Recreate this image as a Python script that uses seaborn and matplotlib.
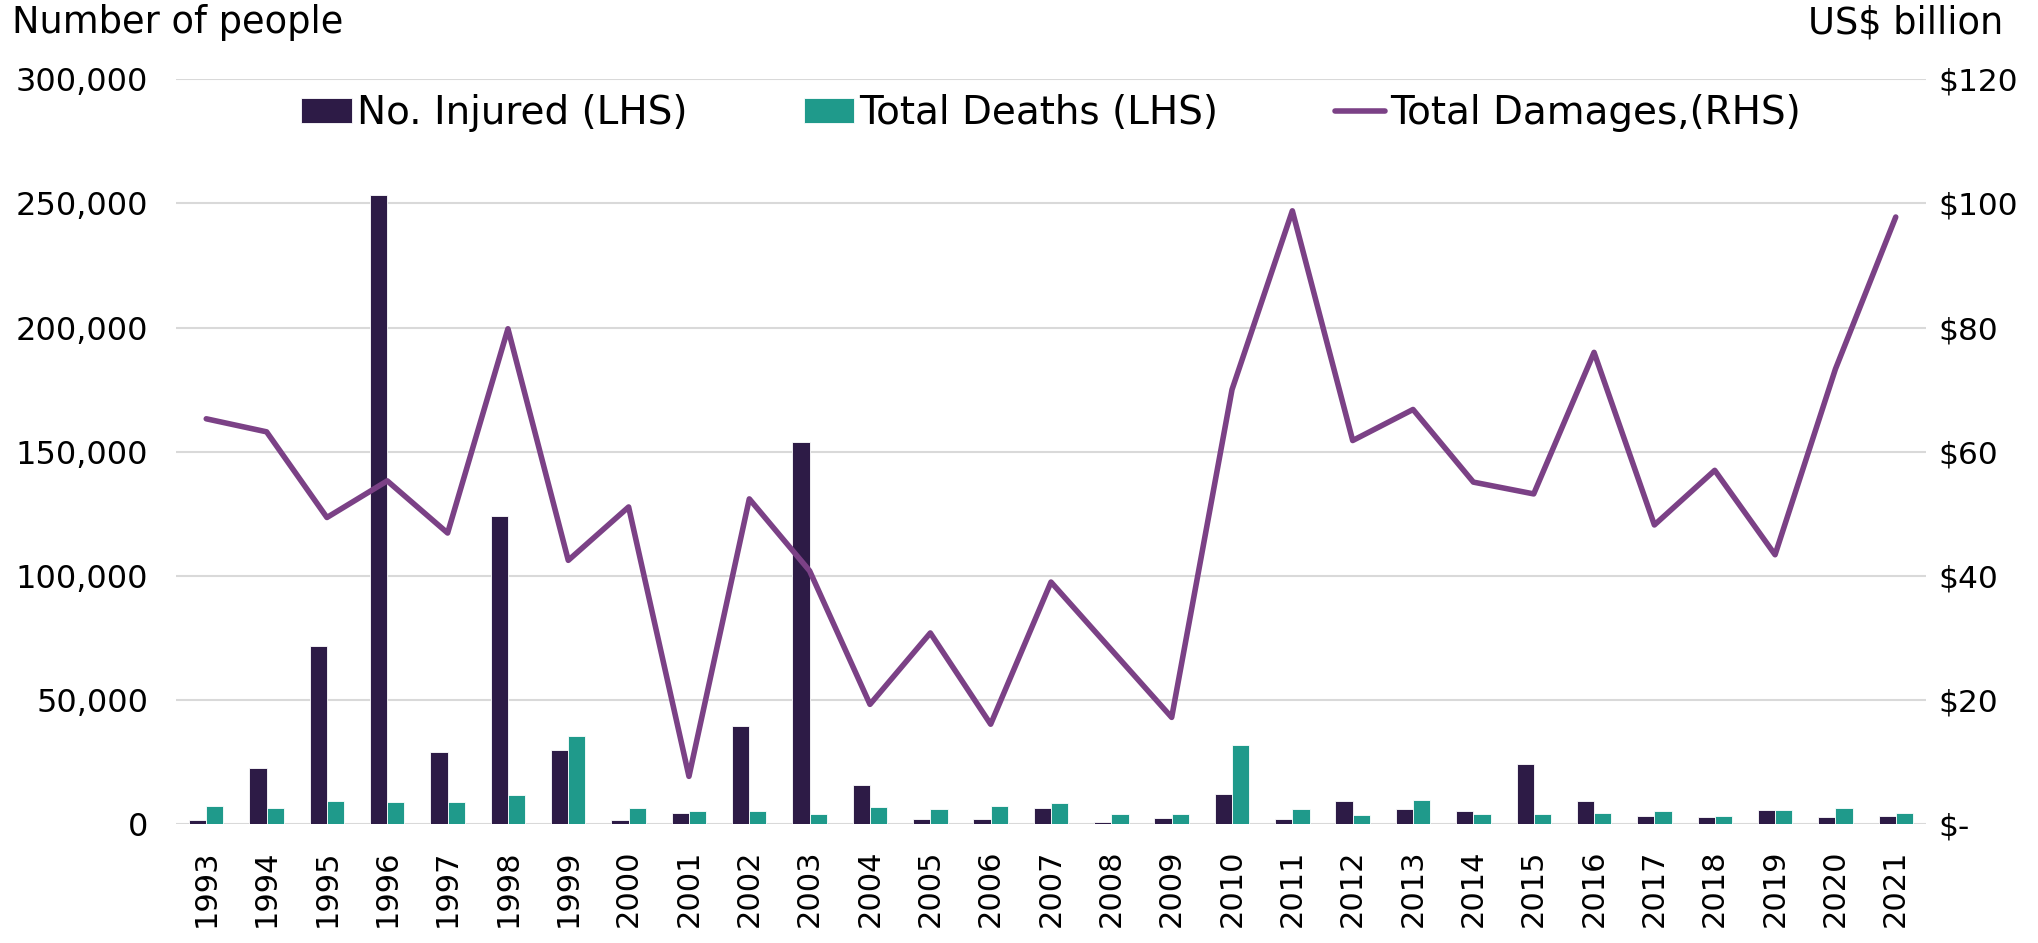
import pandas as pd
import numpy as np
import matplotlib.pyplot as plt
import seaborn as sns
from matplotlib.ticker import FuncFormatter

# Data
years = [str(y) for y in range(1993, 2022)]
injured = [1600, 22800, 71700, 253400, 29000, 124100, 29700, 1500, 4600, 39700,
           153900, 15700, 1900, 2200, 6600, 900, 2300, 12000, 2200, 9200,
           6200, 5300, 24400, 9200, 3100, 3000, 5900, 2800, 3100]
deaths = [7500, 6700, 9200, 8900, 9000, 11600, 35500, 6700, 5500, 5400,
          4300, 7100, 6200, 7300, 8600, 4300, 4200, 31700, 6100, 3800,
          9700, 4200, 4300, 4500, 5500, 3100, 5800, 6600, 4500]
damages = [65.3, 63.2, 49.4, 55.3, 46.9, 79.8, 42.5, 51.1, 7.7, 52.4,
           40.8, 19.3, 30.8, 16.1, 39.0, 28.1, 17.2, 70.0, 98.8, 61.8,
           66.8, 55.1, 53.2, 76.0, 48.2, 57.0, 43.4, 73.3, 97.8]

series_names = ["No. Injured (LHS)", "Total Deaths (LHS)"]
line_name = "Total Damages,(RHS)"

df = pd.DataFrame({"year": years * 2,
                   "series": [series_names[0]] * len(years) + [series_names[1]] * len(years),
                   "people": injured + deaths})

sns.set_style("white")
plt.rcParams['font.family'] = ['DejaVu Sans']
plt.rcParams['text.color'] = 'black'
plt.rcParams['xtick.color'] = 'black'
plt.rcParams['ytick.color'] = 'black'

fig = plt.figure(figsize=(20.38, 9.43), dpi=100)
ax = fig.add_axes([0.0864, 0.126, 0.8586, 0.790])

palette = {series_names[0]: "#2D1B46", series_names[1]: "#1F9A8B"}
sns.barplot(data=df, x="year", y="people", hue="series", hue_order=series_names,
            palette=palette, width=0.57, gap=0, saturation=1, ax=ax,
            edgecolor="white", linewidth=0.6)
handles, labels = ax.get_legend_handles_labels()
ax.get_legend().remove()

ax.set_ylim(0, 300000)
ax.set_yticks(range(0, 300001, 50000))
ax.yaxis.set_major_formatter(FuncFormatter(lambda v, p: f"{int(v):,}"))
ax.grid(axis="y", color="#D9D9D9", linewidth=1.5)
ax.set_axisbelow(True)
ax.set_xlabel("")
ax.set_ylabel("")
ax.tick_params(axis="y", length=0, pad=20, labelsize=23)
ax.tick_params(axis="x", length=0, pad=18, labelsize=22, rotation=90)
for s in ax.spines.values():
    s.set_visible(False)

ax2 = ax.twinx()
sns.lineplot(x=np.arange(len(years)), y=damages, color="#7B4186", linewidth=4,
             ax=ax2, label=line_name)
h2, l2 = ax2.get_legend_handles_labels()
ax2.get_legend().remove()
ax2.set_ylim(0, 120)
ax2.set_yticks(range(0, 121, 20))
ax2.yaxis.set_major_formatter(FuncFormatter(lambda v, p: "$-" if v == 0 else f"${int(v)}"))
ax2.tick_params(axis="y", length=0, pad=9, labelsize=22.5)
ax2.set_xlim(-0.5, len(years) - 0.5)
for s in ax2.spines.values():
    s.set_visible(False)

ax2.legend(handles + h2, labels + l2, loc="center", bbox_to_anchor=(0.5, 0.954),
           ncol=3, frameon=False, fontsize=28, handlelength=1.3,
           handletextpad=0.12, columnspacing=3.0, handleheight=0.6)

fig.text(0.006, 0.976, "Number of people", fontsize=26.5, va="center", ha="left")
fig.text(0.983, 0.976, "US$ billion", fontsize=26.5, va="center", ha="right")

fig.savefig("out.png", dpi=100)
